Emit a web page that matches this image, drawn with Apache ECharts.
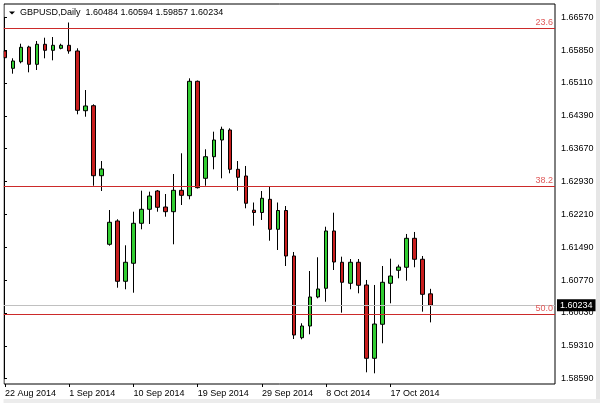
<!DOCTYPE html>
<html><head><meta charset="utf-8">
<script src="https://cdn.jsdelivr.net/npm/echarts@6/dist/echarts.min.js"></script>
<style>html,body{margin:0;padding:0;background:#fff}#c{width:600px;height:403px}</style>
</head><body><div id="c"></div>
<script>
const symbolName = 'GBPUSD,Daily';
const dates = ['22 Aug 2014','24 Aug 2014','25 Aug 2014','26 Aug 2014','27 Aug 2014','28 Aug 2014','29 Aug 2014','31 Aug 2014',
'1 Sep 2014','2 Sep 2014','3 Sep 2014','4 Sep 2014','5 Sep 2014','7 Sep 2014','8 Sep 2014','9 Sep 2014',
'10 Sep 2014','11 Sep 2014','12 Sep 2014','14 Sep 2014','15 Sep 2014','16 Sep 2014','17 Sep 2014','18 Sep 2014',
'19 Sep 2014','21 Sep 2014','22 Sep 2014','23 Sep 2014','24 Sep 2014','25 Sep 2014','26 Sep 2014','28 Sep 2014',
'29 Sep 2014','30 Sep 2014','1 Oct 2014','2 Oct 2014','3 Oct 2014','5 Oct 2014','6 Oct 2014','7 Oct 2014',
'8 Oct 2014','9 Oct 2014','10 Oct 2014','12 Oct 2014','13 Oct 2014','14 Oct 2014','15 Oct 2014','16 Oct 2014',
'17 Oct 2014','19 Oct 2014','20 Oct 2014','21 Oct 2014','22 Oct 2014','23 Oct 2014'];
const opens  = [1.65823,1.65442,1.65587,1.65911,1.65530,1.65970,1.65838,1.65882,1.65948,1.65823,1.64510,1.64620,1.63081,1.61573,1.62086,1.60760,1.61156,1.62035,1.62343,1.62745,1.62393,1.62290,1.62760,1.62642,1.65157,1.63024,1.63499,1.63866,1.64086,1.63222,1.63075,1.62323,1.62272,1.62562,1.61903,1.62316,1.61316,1.59520,1.59777,1.60415,1.60606,1.61866,1.61178,1.60716,1.61178,1.60679,1.59067,1.59815,1.60716,1.61002,1.61068,1.61705,1.61244,1.60484];
const closes = [1.65675,1.65603,1.65904,1.65530,1.65970,1.65838,1.65948,1.65948,1.65823,1.64519,1.64614,1.63081,1.63229,1.62057,1.60760,1.61178,1.62035,1.62343,1.62635,1.62387,1.62290,1.62760,1.62650,1.65157,1.62818,1.63499,1.63866,1.64101,1.63222,1.63046,1.62475,1.62272,1.62585,1.61903,1.62316,1.61316,1.59579,1.59777,1.60415,1.60591,1.61866,1.61184,1.60738,1.61178,1.60672,1.59067,1.59821,1.60738,1.60876,1.61074,1.61705,1.61244,1.60474,1.60234];
const lows   = [1.65603,1.65324,1.65552,1.65354,1.65405,1.65662,1.65618,1.65860,1.65763,1.64431,1.64378,1.62861,1.62745,1.61543,1.60619,1.60584,1.60509,1.61903,1.62020,1.62290,1.62180,1.61573,1.62437,1.62562,1.62800,1.62861,1.63222,1.63024,1.63134,1.62752,1.62365,1.61982,1.62108,1.61652,1.61448,1.61096,1.59491,1.59485,1.59595,1.60386,1.60311,1.61008,1.60070,1.60584,1.60496,1.58759,1.58737,1.59397,1.60276,1.60826,1.60773,1.61068,1.60092,1.59857];
const highs  = [1.65939,1.65662,1.65983,1.65939,1.66042,1.66115,1.66130,1.65983,1.66449,1.65882,1.64965,1.64651,1.63404,1.62327,1.62123,1.61551,1.62290,1.62752,1.62730,1.62767,1.62679,1.63119,1.63574,1.65222,1.65174,1.63662,1.64049,1.64159,1.64123,1.63404,1.63295,1.62492,1.62745,1.62840,1.62492,1.62415,1.61404,1.59837,1.60986,1.61288,1.61960,1.62268,1.61301,1.61250,1.61250,1.60789,1.60679,1.61096,1.61257,1.61125,1.61800,1.61844,1.61316,1.60594];
const emptySlots = 15;
const fibLevels = [1.66328, 1.62855, 1.60041];
const fibLabels = ['23.6', '38.2', '50.0'];
const yTickLabels = ['1.58590','1.59310','1.60030','1.60770','1.61490','1.62210','1.62930','1.63670','1.64390','1.65110','1.65850','1.66570'];
const yMin = 1.58502, yMax = 1.66856;

const n = dates.length;
const cats = dates.concat(new Array(emptySlots).fill(''));
const ohlc = opens.map((o, i) => [o, closes[i], lows[i], highs[i]]);
const lastClose = closes[n - 1];
const fmt = v => v.toFixed(5);
const titleText = symbolName + '  ' + [opens[n-1], highs[n-1], lows[n-1], closes[n-1]].map(fmt).join(' ');
const FONT = 'Liberation Sans';
const every8 = (idx, val) => idx % 8 === 0 && val !== '';

const chart = echarts.init(document.getElementById('c'), null, {renderer: 'canvas'});
chart.setOption({
  animation: false,
  backgroundColor: '#ffffff',
  textStyle: {fontFamily: FONT},
  title: {text: titleText, left: 20, top: 8, padding: 0, textStyle: {fontSize: 9, fontWeight: 'normal', color: '#000', fontFamily: FONT}},
  grid: [
    {left: 1, right: 45, top: 4, bottom: 19, show: false},
    {left: 4, right: 45, top: 4, bottom: 19, show: true, borderColor: '#000', borderWidth: 1, backgroundColor: 'transparent'},
    {left: 4, right: 45, top: 17.3, bottom: 24.3, show: false}
  ],
  xAxis: [
    {gridIndex: 0, type: 'category', data: cats, boundaryGap: true,
     axisLine: {show: false},
     axisTick: {show: true, alignWithLabel: true, interval: every8, length: 3, lineStyle: {color: '#000'}},
     axisLabel: {interval: every8, align: 'left', margin: 5, fontSize: 9, color: '#000', fontFamily: FONT},
     splitLine: {show: false}},
    {gridIndex: 1, type: 'value', min: 0, max: 1, show: false},
    {gridIndex: 2, type: 'value', min: 0, max: 1, show: false}
  ],
  yAxis: [
    {gridIndex: 0, type: 'value', min: yMin, max: yMax, show: false},
    {gridIndex: 1, type: 'value', min: yMin, max: yMax, show: false},
    {gridIndex: 2, type: 'value', position: 'right', min: 0, max: yTickLabels.length - 1, interval: 1,
     axisLine: {show: true, lineStyle: {color: '#000'}},
     axisTick: {show: true, length: 3, lineStyle: {color: '#000'}},
     splitLine: {show: false},
     axisLabel: {margin: 6, fontSize: 9, color: '#000', fontFamily: FONT,
       formatter: v => yTickLabels[Math.round(v)] || ''}}
  ],
  series: [
    {type: 'candlestick', xAxisIndex: 0, yAxisIndex: 0, data: ohlc, barWidth: 4,
     itemStyle: {color: '#32cd32', color0: '#c81e1e', borderColor: '#000', borderColor0: '#000', borderWidth: 1},
     markLine: {silent: true, symbol: ['none', 'none'], animation: false, precision: 5,
       data: fibLevels.map((v, i) => ({yAxis: v,
         lineStyle: {color: '#cc2a2a', width: 1, type: 'solid'},
         label: {show: true, position: 'insideEndTop', distance: [2, 1], formatter: fibLabels[i], color: '#e05a5a', fontSize: 9, fontFamily: FONT}}))
         .concat([{yAxis: lastClose,
           lineStyle: {color: '#c0c0c0', width: 1, type: 'solid'},
           label: {show: true, position: 'end', distance: 2, formatter: fmt(lastClose), color: '#fff', backgroundColor: '#000', padding: [2, 3, 1, 3], fontSize: 9, fontFamily: FONT}}])
     }}
  ],
  graphic: [
    {type: 'rect', shape: {x: 0, y: 0, width: 3.5, height: 403}, style: {fill: '#fff'}, z: 100, silent: true},
    {type: 'polygon', shape: {points: [[9, 11.5], [15, 11.5], [12, 14.5]]}, style: {fill: '#000'}, z: 100, silent: true},
    {type: 'rect', shape: {x: 596, y: 0, width: 4, height: 403}, style: {fill: '#e6e6e6'}, z: 50, silent: true},
    {type: 'rect', shape: {x: 0, y: 399, width: 600, height: 4}, style: {fill: '#ececec'}, z: 50, silent: true}
  ]
});
</script></body></html>
